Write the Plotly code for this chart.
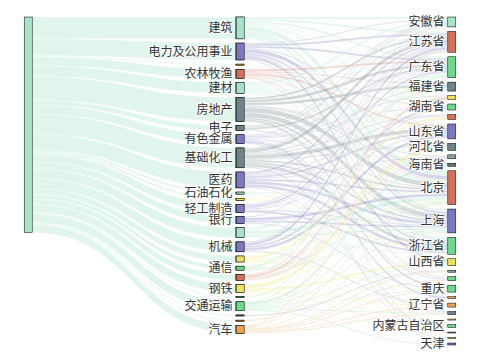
import plotly.graph_objects as go

# ---------------- data ----------------
root_name = "全部行业"

industries = ["建筑", "电力及公用事业", "煤炭", "农林牧渔", "建材", "房地产", "电子", "有色金属",
              "基础化工", "医药", "石油石化", "纺织服装", "轻工制造", "银行", "计算机", "机械",
              "商贸零售", "通信", "电力设备", "钢铁", "家用电器", "交通运输", "传媒", "非银金融", "汽车"]
industry_shown = [True, True, False, True, True, True, True, True,
                  True, True, True, False, True, True, False, True,
                  False, True, False, True, False, True, False, False, True]

provinces = ["安徽省", "江苏省", "广东省", "福建省", "河南省", "湖南省", "湖北省", "山东省", "河北省",
             "四川省", "海南省", "北京", "上海", "浙江省", "山西省", "陕西省", "江西省", "重庆",
             "云南省", "辽宁省", "吉林省", "贵州省", "内蒙古自治区", "新疆", "甘肃省", "天津"]
province_shown = [True, True, True, True, False, True, False, True, True,
                  False, True, True, True, True, True, False, False, True,
                  False, True, False, False, True, False, False, True]

# industry -> province flows
link_industry = (
    ["建筑"] * 11 + ["电力及公用事业"] * 9 + ["煤炭"] + ["农林牧渔"] * 7 + ["建材"] * 9 +
    ["房地产"] * 9 + ["电子"] * 4 + ["有色金属"] * 8 + ["基础化工"] * 10 + ["医药"] * 9 +
    ["石油石化"] * 2 + ["纺织服装"] * 2 + ["轻工制造"] * 6 + ["银行"] * 4 + ["计算机"] * 5 +
    ["机械"] * 5 + ["商贸零售"] * 5 + ["通信"] * 4 + ["电力设备"] * 5 + ["钢铁"] * 5 +
    ["家用电器"] + ["交通运输"] * 8 + ["传媒"] + ["非银金融"] + ["汽车"] * 8
)
link_province = [
    "北京", "上海", "江苏省", "浙江省", "安徽省", "广东省", "重庆", "山东省", "湖南省", "内蒙古自治区", "福建省",
    "北京", "上海", "广东省", "江苏省", "安徽省", "山西省", "浙江省", "河北省", "天津",
    "山西省",
    "山东省", "广东省", "湖南省", "福建省", "北京", "新疆", "江西省",
    "安徽省", "江苏省", "山东省", "北京", "广东省", "浙江省", "四川省", "河北省", "江西省",
    "北京", "上海", "广东省", "江苏省", "福建省", "浙江省", "重庆", "海南省", "四川省",
    "广东省", "江苏省", "上海", "安徽省",
    "云南省", "江西省", "北京", "湖南省", "安徽省", "甘肃省", "广东省", "河南省",
    "山东省", "江苏省", "浙江省", "上海", "北京", "湖北省", "河北省", "安徽省", "内蒙古自治区", "福建省",
    "浙江省", "上海", "江苏省", "北京", "山东省", "广东省", "湖北省", "四川省", "吉林省",
    "北京", "辽宁省",
    "浙江省", "福建省",
    "浙江省", "广东省", "山东省", "福建省", "上海", "江苏省",
    "北京", "上海", "江苏省", "重庆",
    "北京", "上海", "广东省", "浙江省", "福建省",
    "江苏省", "山东省", "湖南省", "辽宁省", "安徽省",
    "北京", "重庆", "湖北省", "河南省", "贵州省",
    "北京", "广东省", "江苏省", "上海",
    "江苏省", "河北省", "湖南省", "河南省", "四川省",
    "河北省", "山西省", "辽宁省", "山东省", "内蒙古自治区",
    "广东省",
    "上海", "北京", "广东省", "海南省", "天津", "重庆", "吉林省", "山西省",
    "陕西省",
    "北京",
    "上海", "重庆", "吉林省", "安徽省", "湖北省", "辽宁省", "陕西省", "江西省",
]
link_value = [
    5, 3, 2, 3, 2, 2, 1, 1, 1, 1, 1,
    4, 2, 2, 2, 1, 3, 1, 1, 1,
    1,
    2, 2, 1, 1, 1, 1, 1,
    2, 1, 1, 2, 1, 1, 1, 1, 1,
    5, 5, 3, 2, 3, 2, 2, 1, 1,
    2, 1, 1, 1,
    2, 1, 1, 1, 1, 1, 1, 1,
    4, 4, 3, 2, 2, 1, 1, 1, 1, 1,
    3, 3, 2, 2, 2, 1, 1, 1, 1,
    1, 1,
    1, 1,
    2, 2, 1, 1, 1, 1,
    3, 2, 1, 1,
    4, 2, 2, 1, 1,
    3, 3, 2, 1, 1,
    1, 1, 2, 1, 1,
    1, 1, 1, 1,
    1, 1, 1, 2, 1,
    3, 2, 1, 1, 1,
    1,
    1, 1, 1, 2, 1, 1, 1, 1,
    1,
    1,
    1, 1, 1, 1, 1, 1, 1, 1,
]

# ---------------- style ----------------
PAL = {
    "mint": "#a6e3c7", "purple": "#7a78be", "yellow": "#ede05c", "red": "#d3705b",
    "gray": "#6f8489", "gray2": "#8a9da2", "dgray": "#5e7479", "green": "#6ed98c", "orange": "#eba052",
}
industry_colors = ["mint", "purple", "yellow", "red", "mint", "gray", "gray", "purple",
                   "gray", "purple", "mint", "yellow", "purple", "purple", "mint", "purple",
                   "yellow", "green", "red", "yellow", "green", "green", "gray", "orange", "orange"]
province_colors = ["mint", "red", "green", "gray", "yellow", "green", "red", "purple", "gray",
                   "gray2", "dgray", "red", "purple", "green", "yellow", "gray2", "green", "green",
                   "orange", "orange", "gray", "yellow", "green", "red", "yellow", "purple"]

W, H = 480, 360
MARGIN = dict(l=28, r=28, t=17, b=15)
PAD = 4.5          # gap between province nodes (sets the value scale)
MID_GAP = 4.2      # gap between industry nodes
THICK = 8
FONT = dict(family="Noto Sans CJK SC", size=12, color="#333333")


def rgba(hexc, a):
    h = hexc.lstrip("#")
    r, g, b = int(h[0:2], 16), int(h[2:4], 16), int(h[4:6], 16)
    return f"rgba({r},{g},{b},{a})"


industry_totals = {n: 0 for n in industries}
province_totals = {n: 0 for n in provinces}
for s, t, v in zip(link_industry, link_province, link_value):
    industry_totals[s] += v
    province_totals[t] += v
grand_total = sum(industry_totals.values())

plot_h = H - MARGIN["t"] - MARGIN["b"]
# value -> pixel scale plotly derives from the busiest column (provinces)
ky = (plot_h - (len(provinces) - 1) * PAD) / grand_total


def stack_y(vals, gap):
    out, pos = [], 0.0
    for v in vals:
        out.append((pos + v * ky / 2) / plot_h)
        pos += v * ky + gap
    return out


ind_vals = [industry_totals[n] for n in industries]
prov_vals = [province_totals[n] for n in provinces]
ind_y = stack_y(ind_vals, MID_GAP)
prov_y = stack_y(prov_vals, PAD)
root_y = stack_y([grand_total], 0)

ind_cols = [PAL[c] for c in industry_colors]
prov_cols = [PAL[c] for c in province_colors]
hov = "%{customdata}: %{value}<extra></extra>"

# ---- left half: root -> industries (industry labels sit left of their nodes)
nA = 1 + len(industries)
traceA = go.Sankey(
    domain=dict(x=[0, 0.5], y=[0, 1]),
    arrangement="fixed",
    node=dict(
        label=[""] + [n if s else "" for n, s in zip(industries, industry_shown)],
        customdata=[root_name] + industries,
        hovertemplate=hov,
        color=[PAL["mint"]] + ind_cols,
        line=dict(color=[PAL["mint"]] + ind_cols, width=0.5),
        thickness=THICK,
        pad=PAD * (len(provinces) - 1) / (len(industries) - 1),
        x=[0.001] + [0.999] * len(industries),
        y=root_y + ind_y,
    ),
    link=dict(
        source=[0] * len(industries),
        target=list(range(1, nA)),
        value=ind_vals,
        color=[rgba(PAL["mint"], 0.35)] * len(industries),
        line=dict(color="white", width=0.4),
    ),
    textfont=FONT,
)

# ---- right half: industries -> provinces
iidx = {n: i for i, n in enumerate(industries)}
pidx = {n: len(industries) + i for i, n in enumerate(provinces)}
traceB = go.Sankey(
    domain=dict(x=[0.5, 1], y=[0, 1]),
    arrangement="fixed",
    node=dict(
        label=[""] * len(industries) + [n if s else "" for n, s in zip(provinces, province_shown)],
        customdata=industries + provinces,
        hovertemplate=hov,
        color=ind_cols + prov_cols,
        line=dict(color=ind_cols + prov_cols, width=0.5),
        thickness=THICK,
        pad=PAD,
        x=[0.001] * len(industries) + [0.999] * len(provinces),
        y=ind_y + prov_y,
    ),
    link=dict(
        source=[iidx[s] for s in link_industry],
        target=[pidx[t] for t in link_province],
        value=link_value,
        color=[rgba(ind_cols[iidx[s]], 0.3) for s in link_industry],
        line=dict(color="white", width=0.3),
    ),
    textfont=FONT,
)

fig = go.Figure([traceA, traceB])
fig.update_layout(
    width=W, height=H,
    margin=MARGIN,
    paper_bgcolor="white",
    font=FONT,
)
fig.write_html("out.html", config={"displayModeBar": False},
               post_script="document.body.style.margin='0';")
